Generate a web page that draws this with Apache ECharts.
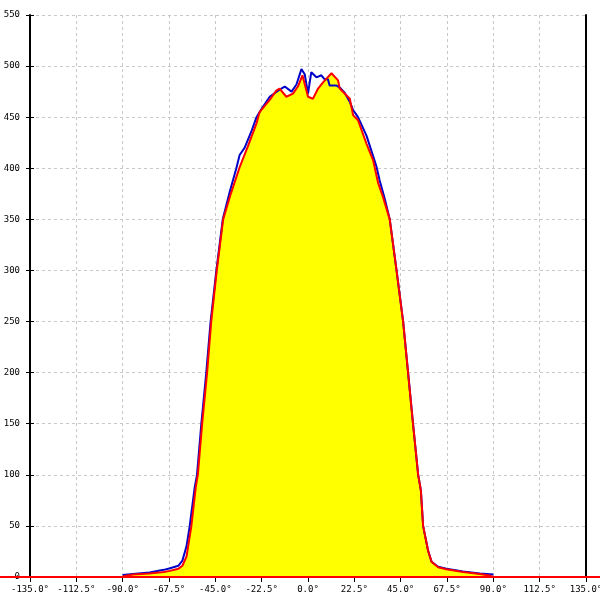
<!DOCTYPE html>
<html>
<head>
<meta charset="utf-8">
<script src="https://cdn.jsdelivr.net/npm/echarts@6/dist/echarts.min.js"></script>
<style>html,body{margin:0;padding:0;background:#fff}#c{width:600px;height:600px}</style>
</head>
<body>
<div id="c"></div>
<script>
var blueX = [-90,-85,-77,-70,-67,-63,-61,-59,-57.5,-55,-53.9,-51.8,-49.4,-47.3,-44.5,-41.4,-38,-34.8,-33.2,-30.8,-27.5,-25,-22.6,-18.6,-13.8,-11.3,-8,-5.6,-3.2,-1.6,0,1.6,4.1,6.5,8.1,9.7,10.5,13.8,15.4,17.8,20.3,21.9,24.3,28.4,30.8,33.2,34.8,37.3,39.7,43,46.2,48.6,51,53.5,54.8,55.9,58.3,60,63.2,67.2,75.3,83.4,90];
var blueY = [2,3,4.5,7,8.5,11,16,30,49,88,100,150,200,250,300,350,377,400,413,420,436,450,458,470,477,480,475,482,497,492,473,494,489,491,487,487,481,481,479,474,465,457,450,432,417,402,388,370,350,300,250,200,150,100,85,50,26,15,10,8,5.5,3.5,2.5];
var redX = [-135,-90,-89,-85,-77,-70,-67,-63,-61,-59,-56.7,-54.5,-53.5,-51.4,-49,-47,-44.3,-41.2,-37.5,-33.2,-29.3,-25,-23.5,-18.6,-15.4,-13.8,-10.5,-7.3,-4.9,-2.7,0,2.4,4.9,7.3,11.4,14.6,15.4,20.3,21.9,24.3,28.4,31.6,34,36.4,39.7,43,46.2,48.6,51,53.5,54.8,55.9,58.3,60,63.2,67.2,75.3,83.4,88,90,135];
var redY = [0,0,1,2.5,3.5,5,6,8,11,20,49,88,100,150,200,250,300,350,375,401,421,444,455,467,476,478,470,473,480,491,470,468,478,484,493,486,478,468,452,447,424,408,386,372,350,300,250,200,150,100,85,50,26,15,9.5,7.5,5,3,1.5,0,0];
// red baseline continues past the plot edges to the page edges
var baseX = [-150, 150];
var baseY = [0, 0];

function pairs(xs, ys){ return xs.map(function(x,i){ return [x, ys[i]]; }); }
var blueData = pairs(blueX, blueY);
var redData = pairs(redX, redY);
var baseData = pairs(baseX, baseY);

var font = 'DejaVu Sans Mono';
var chart = echarts.init(document.getElementById('c'), null, {renderer:'canvas'});
chart.setOption({
  animation: false,
  backgroundColor: '#ffffff',
  grid: [
    {left: 30, right: 14, top: 15, bottom: 23, containLabel: false, outerBoundsMode: 'none'},
    {left: 0, right: 0, top: 15, bottom: 23, containLabel: false, outerBoundsMode: 'none'}
  ],
  xAxis: [{
    type: 'value', min: -135, max: 135, interval: 22.5, gridIndex: 0,
    axisLine: {show: true, onZero: false, lineStyle: {color: '#000', width: 2}},
    axisTick: {show: true, length: 5, lineStyle: {color: '#000', width: 1}},
    axisLabel: {margin: 8, color: '#000', fontFamily: font, fontSize: 9,
      formatter: function(v){ return v.toFixed(1) + '°'; }},
    splitLine: {show: true, lineStyle: {color: '#c8c8c8', type: [3,3], width: 1}}
  }, {
    type: 'value', min: -150, max: 150, gridIndex: 1, show: false
  }],
  yAxis: [{
    type: 'value', min: 0, max: 550, interval: 50, position: 'left', gridIndex: 0,
    axisLine: {show: true, onZero: false, lineStyle: {color: '#000', width: 2}},
    axisTick: {show: true, length: 4, lineStyle: {color: '#000', width: 1}},
    axisLabel: {margin: 10, color: '#000', fontFamily: font, fontSize: 9},
    splitLine: {show: true, lineStyle: {color: '#c8c8c8', type: [3,3], width: 1}}
  }, {
    type: 'value', min: 0, max: 550, interval: 50, position: 'left', gridIndex: 0,
    axisLine: {show: false, onZero: false},
    axisTick: {show: true, inside: true, length: 4, lineStyle: {color: '#000', width: 1}},
    axisLabel: {show: false},
    splitLine: {show: false}
  }, {
    type: 'value', min: 0, max: 550, interval: 50, position: 'right', gridIndex: 0,
    axisLine: {show: true, onZero: false, lineStyle: {color: '#000', width: 2}},
    axisTick: {show: false},
    axisLabel: {show: false},
    splitLine: {show: false}
  }, {
    type: 'value', min: 0, max: 550, gridIndex: 1, show: false
  }],
  series: [{
    type: 'line', data: redData, showSymbol: false, xAxisIndex: 0, yAxisIndex: 0,
    lineStyle: {width: 0, opacity: 0},
    areaStyle: {color: '#ffff00', opacity: 1},
    z: 2
  }, {
    type: 'line', data: blueData, showSymbol: false, xAxisIndex: 0, yAxisIndex: 0,
    lineStyle: {color: '#0000c8', width: 2},
    z: 3
  }, {
    type: 'line', data: redData, showSymbol: false, xAxisIndex: 0, yAxisIndex: 0,
    lineStyle: {color: '#ff0000', width: 2},
    z: 4
  }, {
    type: 'line', data: baseData, showSymbol: false, xAxisIndex: 1, yAxisIndex: 3,
    lineStyle: {color: '#ff0000', width: 2},
    z: 5
  }]
});
</script>
</body>
</html>
